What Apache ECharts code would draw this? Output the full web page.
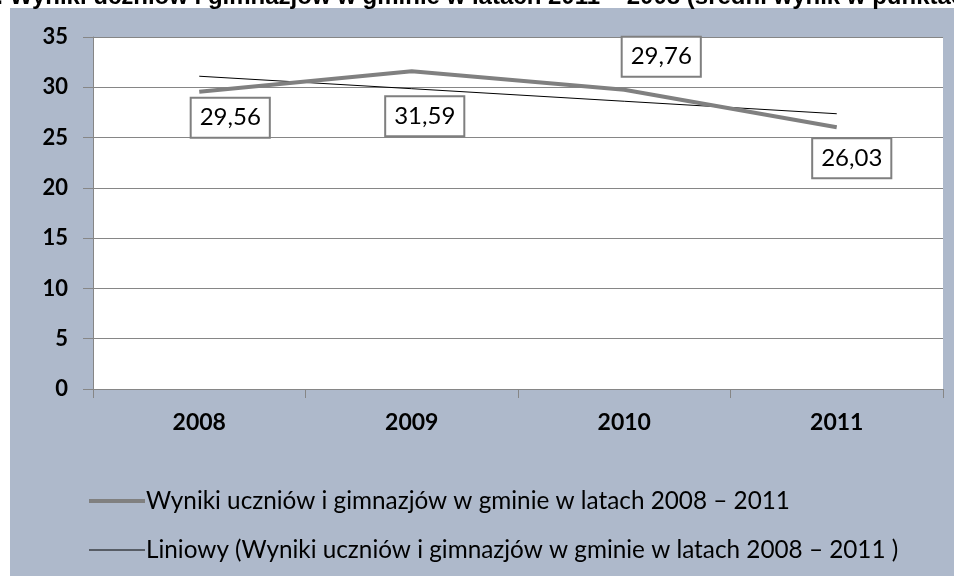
<!DOCTYPE html>
<html>
<head>
<meta charset="utf-8">
<script src="https://cdn.jsdelivr.net/npm/echarts@6/dist/echarts.min.js"></script>
<style>html,body{margin:0;padding:0;background:#fff;}#c{width:954px;height:576px;}</style>
</head>
<body>
<div id="c"></div>
<script>
const categories = ['2008', '2009', '2010', '2011'];
const results = [29.56, 31.59, 29.76, 26.03];
const trend = [31.10, 29.86, 28.61, 27.37];
const yTicks = [0, 5, 10, 15, 20, 25, 30, 35];
const seriesNames = ['Wyniki uczniów i gimnazjów w gminie w latach 2008 – 2011',
                     'Liniowy (Wyniki uczniów i gimnazjów w gminie w latach 2008 – 2011 )'];
const titleText = '1. Wyniki uczniów i gimnazjów w gminie w latach 2011 – 2008 (średni wynik w punktach)';

// label placement (style only)
const labelOffsets = [[31, 26], [13, 45], [37, -33], [15, 31]];

const chart = echarts.init(document.getElementById('c'), null, {renderer: 'canvas'});
const gridColor = '#868686';
const font = 'Lato, "Liberation Sans", Arial, sans-serif';

chart.setOption({
  animation: false,
  backgroundColor: '#ffffff',
  graphic: [
    {type: 'rect', z: -10, silent: true, shape: {x: 10, y: 8, width: 944, height: 568},
     style: {fill: '#AEB9CB'}},
    {type: 'text', z: 10, silent: true, x: -17, y: 9,
     style: {text: titleText, font: 'bold 24px "Liberation Sans", Arial, sans-serif',
             fill: '#000', verticalAlign: 'bottom'}}
  ],
  grid: {left: 93, right: 11, top: 37, bottom: 187, show: true, backgroundColor: '#ffffff', borderWidth: 0},
  xAxis: {
    type: 'category', data: categories, boundaryGap: true,
    axisLine: {lineStyle: {color: gridColor, width: 1}},
    axisTick: {show: true, length: 9, alignWithLabel: false, lineStyle: {color: gridColor}},
    axisLabel: {margin: 22, color: '#000', fontWeight: 'bold', fontSize: 23, fontFamily: font}
  },
  yAxis: {
    type: 'value', min: yTicks[0], max: yTicks[yTicks.length - 1], interval: 5,
    axisLine: {show: true, lineStyle: {color: gridColor, width: 1}},
    axisTick: {show: true, length: 10, lineStyle: {color: gridColor}},
    splitLine: {show: true, lineStyle: {color: gridColor, width: 1}},
    axisLabel: {margin: 25, color: '#000', fontWeight: 'bold', fontSize: 22, fontFamily: font}
  },
  legend: {
    orient: 'vertical', left: 87, top: 489, padding: 0, itemWidth: 56, itemHeight: 14, itemGap: 25,
    textStyle: {fontSize: 24.3, color: '#000', fontFamily: font, padding: [0, 0, 0, -4]},
    data: [
      {name: seriesNames[0], itemStyle: {opacity: 0}, lineStyle: {width: 4, color: '#808080'}},
      {name: seriesNames[1], itemStyle: {opacity: 0}, lineStyle: {width: 1, color: '#000'}}
    ]
  },
  series: [
    {
      name: seriesNames[0], type: 'line', data: results.map((v, i) => ({
        value: v,
        label: {offset: labelOffsets[i]}
      })),
      symbol: 'circle', symbolSize: 1, showSymbol: true,
      itemStyle: {color: 'rgba(0,0,0,0)'},
      lineStyle: {color: '#808080', width: 4},
      z: 3,
      label: {
        show: true, position: 'inside', color: '#000', fontSize: 24, fontFamily: font,
        backgroundColor: '#fff', borderColor: '#7f7f7f', borderWidth: 2,
        padding: [8, 8, 6, 8],
        formatter: p => p.value.toFixed(2).replace('.', ',')
      }
    },
    {
      name: seriesNames[1], type: 'line', data: trend,
      symbol: 'none', showSymbol: false,
      itemStyle: {color: '#000'},
      lineStyle: {color: '#000', width: 1},
      z: 2
    }
  ]
});
</script>
</body>
</html>
